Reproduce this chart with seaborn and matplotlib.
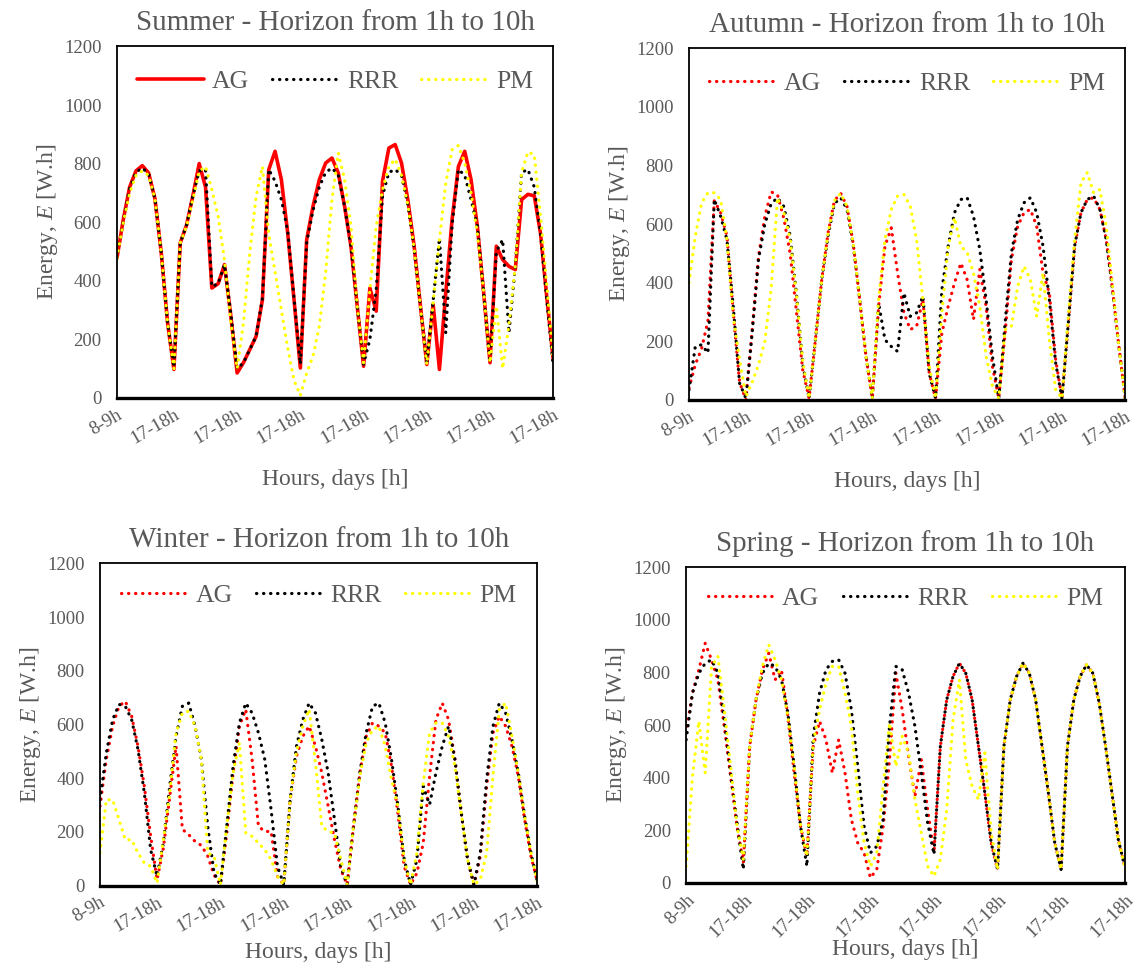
import matplotlib
matplotlib.use("Agg")
import matplotlib.pyplot as plt
import seaborn as sns
import pandas as pd

# ==================== style ====================
sns.set_style("white")
plt.rcParams["font.family"] = ["Liberation Serif", "DejaVu Serif"]
plt.rcParams["mathtext.fontset"] = "custom"
plt.rcParams["mathtext.rm"] = "Liberation Serif"
plt.rcParams["mathtext.it"] = "Liberation Serif:italic"
GREY = "#595959"

# ==================== data ====================
HOURS = ["8-9h", "9-10h", "10-11h", "11-12h", "12-13h",
         "13-14h", "14-15h", "15-16h", "16-17h", "17-18h"]
N_DAYS = 7
SLOT_LABELS = HOURS * N_DAYS
MODELS = ["AG", "RRR", "PM"]
COLORS = {"AG": "#FF0000", "RRR": "#000000", "PM": "#FFFF00"}

SUMMER_AG = [478, 610, 720, 775, 793, 768, 680, 495, 256, 97,
             529, 590, 690, 800, 720, 375, 390, 455, 280, 85,
             120, 165, 210, 335, 779, 842, 745, 563, 335, 102,
             540, 654, 745, 802, 819, 768, 654, 518, 313, 108,
             375, 296, 740, 853, 865, 802, 677, 518, 313, 114,
             320, 97, 358, 609, 790, 842, 745, 586, 358, 120,
             518, 472, 449, 438, 677, 695, 690, 560, 340, 130]
SUMMER_RRR = [478, 605, 715, 770, 785, 765, 680, 495, 256, 105,
              529, 590, 690, 775, 780, 380, 390, 455, 290, 100,
              120, 165, 210, 340, 780, 740, 677, 570, 340, 115,
              530, 640, 720, 770, 785, 760, 654, 518, 313, 115,
              200, 370, 690, 770, 780, 760, 660, 510, 310, 120,
              330, 545, 222, 590, 780, 760, 677, 586, 358, 120,
              500, 540, 222, 450, 770, 780, 720, 560, 330, 110]
SUMMER_PM = [478, 600, 700, 760, 775, 760, 680, 495, 256, 100,
             529, 586, 677, 774, 790, 711, 620, 470, 260, 100,
             256, 495, 688, 790, 560, 430, 300, 170, 60, 8,
             85, 142, 245, 427, 677, 836, 745, 586, 313, 120,
             370, 586, 711, 790, 815, 760, 660, 510, 310, 114,
             324, 540, 733, 847, 862, 802, 700, 560, 360, 120,
             313, 100, 250, 450, 770, 840, 830, 620, 380, 130]

AUTUMN_AG = [40, 120, 175, 270, 680, 640, 560, 300, 60, 0,
             240, 490, 627, 710, 700, 620, 500, 300, 100, 5,
             205, 410, 570, 680, 705, 660, 530, 342, 148, 5,
             319, 525, 587, 433, 297, 240, 251, 342, 91, 5,
             228, 319, 399, 467, 410, 274, 445, 319, 114, 5,
             228, 479, 593, 639, 650, 593, 433, 365, 137, 5,
             262, 525, 639, 684, 690, 650, 547, 376, 182, 5]
AUTUMN_RRR = [34, 182, 188, 160, 684, 627, 547, 319, 57, 5,
              230, 480, 600, 670, 690, 660, 560, 360, 120, 5,
              205, 410, 560, 670, 690, 650, 525, 342, 148, 5,
              330, 205, 182, 165, 365, 285, 297, 354, 91, 5,
              376, 525, 639, 684, 690, 627, 513, 342, 148, 5,
              262, 502, 616, 673, 690, 639, 525, 342, 125, 5,
              262, 525, 639, 684, 696, 650, 547, 376, 182, 5]
AUTUMN_PM = [400, 559, 673, 707, 707, 684, 547, 285, 137, 11,
             60, 120, 200, 380, 690, 640, 550, 360, 130, 5,
             205, 410, 570, 680, 705, 660, 530, 342, 148, 5,
             342, 547, 650, 696, 701, 661, 547, 342, 114, 5,
             297, 525, 622, 525, 502, 433, 319, 148, 46, 5,
             240, 251, 388, 456, 410, 285, 433, 205, 34, 5,
             285, 547, 741, 776, 707, 718, 593, 388, 182, 5]

WINTER_AG = [296, 470, 594, 668, 687, 631, 519, 370, 184, 22,
             140, 330, 520, 210, 190, 165, 150, 110, 40, 4,
             196, 420, 594, 656, 470, 221, 202, 202, 35, 4,
             320, 482, 556, 594, 519, 420, 296, 171, 60, 4,
             221, 420, 556, 606, 594, 569, 445, 271, 72, 4,
             47, 159, 407, 618, 680, 618, 470, 271, 97, 4,
             110, 370, 569, 631, 594, 519, 407, 246, 109, 16]
WINTER_RRR = [320, 494, 618, 675, 668, 618, 507, 345, 134, 35,
              159, 370, 556, 668, 680, 594, 470, 221, 47, 4,
              221, 445, 606, 680, 643, 569, 470, 283, 72, 4,
              320, 519, 618, 680, 643, 544, 420, 246, 72, 4,
              221, 420, 569, 668, 680, 606, 470, 296, 97, 4,
              97, 370, 302, 420, 519, 594, 470, 271, 97, 4,
              122, 395, 594, 680, 643, 544, 420, 258, 122, 16]
WINTER_PM = [122, 320, 320, 246, 171, 171, 122, 84, 72, 10,
             171, 345, 569, 643, 650, 594, 470, 122, 109, 4,
             221, 420, 532, 196, 184, 159, 134, 97, 35, 4,
             320, 500, 594, 656, 457, 221, 202, 196, 97, 4,
             221, 407, 532, 581, 594, 519, 395, 296, 97, 4,
             122, 382, 569, 606, 606, 556, 445, 271, 97, 4,
             22, 122, 407, 656, 680, 556, 420, 258, 122, 16]

SPRING_AG = [570, 722, 810, 911, 848, 772, 595, 405, 215, 76,
             519, 696, 810, 873, 772, 810, 633, 418, 215, 101,
             519, 614, 544, 418, 544, 418, 241, 152, 114, 19,
             51, 215, 468, 798, 658, 481, 329, 468, 278, 114,
             519, 696, 785, 835, 797, 696, 519, 342, 152, 51,
             519, 696, 785, 835, 797, 696, 519, 342, 152, 51,
             519, 696, 785, 829, 797, 684, 519, 342, 165, 63]
SPRING_RRR = [544, 722, 797, 835, 848, 797, 620, 418, 228, 51,
              519, 696, 797, 835, 823, 772, 646, 443, 215, 63,
              557, 722, 810, 842, 848, 797, 658, 443, 215, 114,
              139, 241, 595, 823, 810, 722, 595, 418, 228, 108,
              519, 696, 785, 835, 797, 696, 519, 342, 152, 51,
              519, 696, 785, 835, 797, 696, 519, 342, 152, 51,
              519, 696, 785, 829, 797, 684, 519, 342, 165, 63]
SPRING_PM = [63, 405, 614, 418, 823, 861, 658, 443, 215, 89,
             519, 696, 823, 905, 848, 772, 633, 443, 215, 101,
             532, 658, 760, 823, 823, 722, 595, 342, 152, 63,
             114, 367, 608, 443, 557, 494, 316, 190, 63, 25,
             89, 278, 620, 772, 468, 367, 316, 494, 190, 51,
             519, 696, 785, 835, 797, 696, 519, 342, 152, 51,
             519, 696, 785, 829, 797, 684, 519, 342, 165, 63]

Y_TICKS = [0, 200, 400, 600, 800, 1000, 1200]

# season, series, solid AG line, label rotation, axes rect (fig fraction)
PANELS = [
    ("Summer", [SUMMER_AG, SUMMER_RRR, SUMMER_PM], True, 30, [0.103, 0.589, 0.384, 0.363]),
    ("Autumn", [AUTUMN_AG, AUTUMN_RRR, AUTUMN_PM], False, 30, [0.6065, 0.587, 0.384, 0.363]),
    ("Winter", [WINTER_AG, WINTER_RRR, WINTER_PM], False, 30, [0.088, 0.085, 0.385, 0.333]),
    ("Spring", [SPRING_AG, SPRING_RRR, SPRING_PM], False, 45, [0.604, 0.088, 0.386, 0.326]),
]

tick_pos = [0] + [i for i, h in enumerate(SLOT_LABELS) if h == "17-18h"]
tick_lab = [SLOT_LABELS[i] for i in tick_pos]
slots = list(range(len(SLOT_LABELS)))

fig = plt.figure(figsize=(11.36, 9.68), dpi=100)
fig.patch.set_facecolor("white")

for season, series, solid_ag, rot, rect in PANELS:
    ax = fig.add_axes(rect)
    df = pd.DataFrame({"slot": slots * 3,
                       "energy": series[0] + series[1] + series[2],
                       "model": sum([[m] * len(slots) for m in MODELS], [])})
    for m in MODELS:
        sub = df[df["model"] == m]
        if m == "AG" and solid_ag:
            style = dict(linestyle="-", linewidth=2.6)
        else:
            style = dict(linestyle=(0, (0.1, 2.1)), linewidth=2.3,
                         dash_capstyle="round")
        sns.lineplot(data=sub, x="slot", y="energy", ax=ax, color=COLORS[m],
                     label=m, legend=False, errorbar=None, **style)

    ax.set_xlim(0, len(slots) - 1)
    ax.set_ylim(0, 1200)
    ax.set_yticks(Y_TICKS)
    ax.set_xticks(tick_pos)
    ax.set_xticklabels(tick_lab, rotation=rot, ha="right", va="top",
                       rotation_mode="anchor")
    ax.tick_params(axis="both", length=0, labelcolor=GREY, labelsize=13.5)
    ax.tick_params(axis="y", pad=11)
    ax.tick_params(axis="x", pad=6)
    for side, sp in ax.spines.items():
        sp.set_visible(True)
        sp.set_color("black")
        sp.set_linewidth(2.4 if side == "bottom" else 1.3)

    ax.set_title(f"{season} - Horizon from 1h to 10h", fontsize=21,
                 color=GREY, pad=12)
    ax.set_ylabel("Energy, $E$ [W.h]", fontsize=17, color=GREY)
    ax.set_xlabel("Hours, days [h]", fontsize=17, color=GREY)
    w_px = rect[2] * 1136
    h_px = rect[3] * 968
    ax.yaxis.set_label_coords(-57 / w_px, 0.5)
    ax.xaxis.set_label_coords(0.5, -(71 if rect[1] > 0.5 else 56) / h_px)

    ax.legend(loc="center", bbox_to_anchor=(0.5, 0.9), ncol=3,
              frameon=False, fontsize=18.5, handlelength=2.6,
              handletextpad=0.3, columnspacing=0.9, labelcolor=GREY)

fig.savefig("out.png", dpi=100, facecolor="white")
